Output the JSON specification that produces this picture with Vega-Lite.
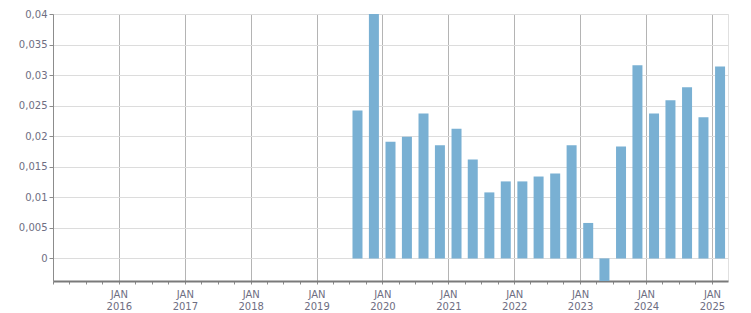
{
  "$schema": "https://vega.github.io/schema/vega-lite/v6.json",
  "autosize": "none",
  "width": 675,
  "height": 267,
  "padding": {"left": 53, "top": 14, "right": 23, "bottom": 32},
  "background": "white",
  "config": {
    "locale": {"number": {"decimal": ",", "thousands": ".", "grouping": [3], "currency": ["", "€"]}},
    "view": {"stroke": "#e0e0e0"},
    "axis": {"labelFont": "DejaVu Sans", "labelFontSize": 10, "labelColor": "#6e6e82"}
  },
  "data": {
    "values": [
      {"date": "2019-08-16", "value": 0.0242},
      {"date": "2019-11-15", "value": 0.0405},
      {"date": "2020-02-15", "value": 0.0191},
      {"date": "2020-05-16", "value": 0.0199},
      {"date": "2020-08-16", "value": 0.0237},
      {"date": "2020-11-15", "value": 0.0185},
      {"date": "2021-02-15", "value": 0.0212},
      {"date": "2021-05-16", "value": 0.0162},
      {"date": "2021-08-16", "value": 0.0108},
      {"date": "2021-11-15", "value": 0.0126},
      {"date": "2022-02-15", "value": 0.0126},
      {"date": "2022-05-16", "value": 0.0134},
      {"date": "2022-08-16", "value": 0.0139},
      {"date": "2022-11-15", "value": 0.0185},
      {"date": "2023-02-15", "value": 0.0058},
      {"date": "2023-05-16", "value": -0.0045},
      {"date": "2023-08-16", "value": 0.0183},
      {"date": "2023-11-15", "value": 0.0316},
      {"date": "2024-02-15", "value": 0.0237},
      {"date": "2024-05-16", "value": 0.0259},
      {"date": "2024-08-16", "value": 0.0280},
      {"date": "2024-11-15", "value": 0.0231},
      {"date": "2025-02-15", "value": 0.0314}
    ]
  },
  "mark": {"type": "bar", "width": 10, "color": "#79b0d3", "clip": true},
  "encoding": {
    "x": {
      "field": "date",
      "type": "temporal",
      "scale": {"domain": ["2015-01-01", "2025-03-31"], "padding": 0},
      "axis": {
        "title": null,
        "tickCount": {"interval": "month", "step": 3},
        "labelExpr": "month(datum.value) == 0 && year(datum.value) > 2015 ? ['JAN', timeFormat(datum.value, '%Y')] : ''",
        "labelLineHeight": 12,
        "labelPadding": 5,
        "labelFlush": false,
        "labelOverlap": false,
        "tickSize": 3,
        "tickColor": "#8c8c8c",
        "domainColor": "#7a7a7a",
        "domainWidth": 2,
        "grid": true,
        "gridColor": "#b4b4b4",
        "gridOpacity": {"condition": {"test": "month(datum.value) == 0 && year(datum.value) > 2015", "value": 1}, "value": 0}
      }
    },
    "y": {
      "field": "value",
      "type": "quantitative",
      "scale": {"domain": [-0.0037, 0.04], "nice": false, "zero": false},
      "axis": {
        "title": null,
        "values": [0, 0.005, 0.01, 0.015, 0.02, 0.025, 0.03, 0.035, 0.04],
        "format": ".3~f",
        "tickSize": 4,
        "labelPadding": 2,
        "tickColor": "#8c8c8c",
        "domainColor": "#8c8c8c",
        "gridColor": "#dcdcdc"
      }
    }
  }
}
